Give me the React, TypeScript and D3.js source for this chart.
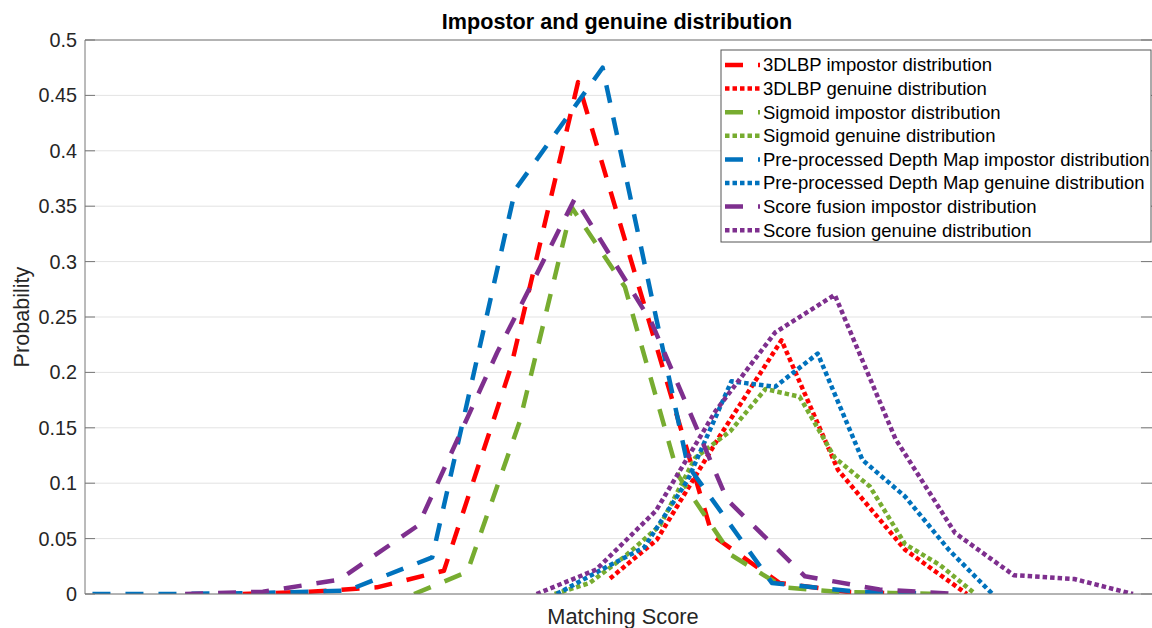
import React from "react";
import * as d3 from "d3";

// ---- data: matching score (0-100) and probability for each distribution ----
const dlbpImpostorScore = [14.8, 21.1, 27.4, 33.7, 40.0, 46.3, 52.6, 58.9, 65.2, 71.5, 77.7];
const dlbpImpostorProb = [0, 0.002, 0.006, 0.021, 0.205, 0.462, 0.258, 0.053, 0.01, 0.002, 0];

const dlbpGenuineScore = [49.3, 53.7, 59.5, 65.4, 70.7, 77.0, 82.8];
const dlbpGenuineProb = [0.014, 0.049, 0.141, 0.229, 0.112, 0.04, 0];

const sigmoidImpostorScore = [30.9, 35.9, 40.8, 45.7, 50.7, 55.7, 60.7, 65.6, 70.6, 75.6, 80.6];
const sigmoidImpostorProb = [0, 0.02, 0.155, 0.349, 0.277, 0.107, 0.035, 0.006, 0.002, 0.001, 0];

const sigmoidGenuineScore = [44.1, 47.4, 50.7, 54.0, 57.3, 60.6, 63.9, 67.1, 70.4, 73.7, 77.0, 80.3, 83.6];
const sigmoidGenuineProb = [0, 0.01, 0.034, 0.062, 0.123, 0.147, 0.185, 0.178, 0.123, 0.097, 0.045, 0.026, 0];

const depthImpostorScore = [0.7, 8.6, 16.6, 24.6, 32.6, 40.4, 48.6, 56.6, 64.5, 72.5, 80.5];
const depthImpostorProb = [0, 0, 0.001, 0.003, 0.033, 0.365, 0.475, 0.116, 0.01, 0.002, 0];

const depthGenuineScore = [44.3, 48.5, 52.5, 56.6, 60.7, 64.8, 68.8, 73.0, 77.0, 81.1, 85.2];
const depthGenuineProb = [0, 0.022, 0.042, 0.103, 0.192, 0.187, 0.217, 0.121, 0.088, 0.04, 0];

const fusionImpostorScore = [9.4, 16.7, 23.9, 31.3, 38.7, 46.0, 53.2, 60.3, 67.6, 74.6, 82.0];
const fusionImpostorProb = [0, 0.002, 0.013, 0.062, 0.218, 0.357, 0.245, 0.085, 0.016, 0.004, 0];

const fusionGenuineScore = [42.4, 48.0, 53.6, 59.2, 64.8, 70.4, 76.1, 81.7, 87.2, 92.9, 98.4];
const fusionGenuineProb = [0, 0.022, 0.075, 0.165, 0.236, 0.27, 0.14, 0.055, 0.017, 0.0135, 0];

const yTicks = [0, 0.05, 0.1, 0.15, 0.2, 0.25, 0.3, 0.35, 0.4, 0.45, 0.5];

const RED = "#FF0000";
const GREEN = "#77AC30";
const BLUE = "#0072BD";
const PURPLE = "#7E2F8E";

type Series = { name: string; xs: number[]; ys: number[]; color: string; dotted: boolean };

const series: Series[] = [
  { name: "3DLBP impostor distribution", xs: dlbpImpostorScore, ys: dlbpImpostorProb, color: RED, dotted: false },
  { name: "3DLBP genuine distribution", xs: dlbpGenuineScore, ys: dlbpGenuineProb, color: RED, dotted: true },
  { name: "Sigmoid impostor distribution", xs: sigmoidImpostorScore, ys: sigmoidImpostorProb, color: GREEN, dotted: false },
  { name: "Sigmoid genuine distribution", xs: sigmoidGenuineScore, ys: sigmoidGenuineProb, color: GREEN, dotted: true },
  { name: "Pre-processed Depth Map impostor distribution", xs: depthImpostorScore, ys: depthImpostorProb, color: BLUE, dotted: false },
  { name: "Pre-processed Depth Map genuine distribution", xs: depthGenuineScore, ys: depthGenuineProb, color: BLUE, dotted: true },
  { name: "Score fusion impostor distribution", xs: fusionImpostorScore, ys: fusionImpostorProb, color: PURPLE, dotted: false },
  { name: "Score fusion genuine distribution", xs: fusionGenuineScore, ys: fusionGenuineProb, color: PURPLE, dotted: true },
];

const W = 1152;
const H = 628;
// axes box (right edge sits at the canvas edge); data range ends slightly inside
const plot = { left: 85, right: 1152, top: 40, bottom: 594 };
const DATA_RIGHT = 1150;
const TEXT = "#262626";
const FONT = "'Liberation Sans', Arial, Helvetica, sans-serif";
const DASH = "18 15";
const DOT = "4.5 3";
const LW = 4.5;

export default function App() {
  const x = d3.scaleLinear().domain([0, 100]).range([plot.left, DATA_RIGHT]);
  const y = d3.scaleLinear().domain([0, 0.5]).range([plot.bottom, plot.top]);
  const line = d3
    .line<[number, number]>()
    .x((d) => x(d[0]))
    .y((d) => y(d[1]));

  const legend = { x: 721, y: 50, w: 430, h: 192, row0: 65, rowStep: 23.6 };

  return (
    <svg
      width={W}
      height={H}
      style={{ position: "absolute", left: 0, top: 0, background: "#fff" }}
      fontFamily={FONT}
    >
      <rect x={0} y={0} width={W} height={H} fill="#fff" />
      <defs>
        <clipPath id="clip">
          <rect x={plot.left} y={plot.top - 5} width={plot.right - plot.left} height={plot.bottom - plot.top + 5} />
        </clipPath>
      </defs>
      {/* grid */}
      {yTicks.map((t) => (
        <line key={"g" + t} x1={plot.left} x2={plot.right} y1={y(t)} y2={y(t)} stroke="#e3e3e3" strokeWidth={1} />
      ))}
      {/* series */}
      <g clipPath="url(#clip)">
        {series.map((s) => (
          <path
            key={s.name}
            d={line(s.xs.map((v, i) => [v, s.ys[i]] as [number, number])) || ""}
            fill="none"
            stroke={s.color}
            strokeWidth={LW}
            strokeDasharray={s.dotted ? DOT : DASH}
            strokeLinejoin="round"
          />
        ))}
      </g>
      {/* axes box */}
      <line x1={plot.left} x2={plot.right} y1={plot.top} y2={plot.top} stroke="#777" strokeWidth={1} />
      <line x1={plot.left} x2={plot.right} y1={plot.bottom} y2={plot.bottom} stroke="#777" strokeWidth={1} />
      <line x1={plot.left} x2={plot.left} y1={plot.top} y2={plot.bottom} stroke="#777" strokeWidth={1} />
      {yTicks.map((t) => (
        <g key={"t" + t}>
          <line x1={plot.left} x2={plot.left + 10} y1={y(t)} y2={y(t)} stroke="#777" strokeWidth={1} />
          <line x1={plot.right - 11} x2={plot.right} y1={y(t)} y2={y(t)} stroke="#777" strokeWidth={1} />
          <text x={plot.left - 8} y={y(t)} dy="0.35em" textAnchor="end" fontSize={19.8} fill={TEXT}>
            {String(t)}
          </text>
        </g>
      ))}
      {/* labels */}
      <text x={617} y={29} textAnchor="middle" fontSize={21.6} fontWeight="bold" fill="#000">
        Impostor and genuine distribution
      </text>
      <text x={623} y={624} textAnchor="middle" fontSize={21.8} fill={TEXT}>
        Matching Score
      </text>
      <text transform="translate(29,317) rotate(-90)" textAnchor="middle" fontSize={21.6} fill={TEXT}>
        Probability
      </text>
      {/* legend */}
      <rect x={legend.x} y={legend.y} width={legend.w} height={legend.h} fill="#fff" stroke="#555" strokeWidth={1} />
      {series.map((s, i) => {
        const cy = legend.row0 + i * legend.rowStep;
        return (
          <g key={"l" + s.name}>
            <line
              x1={725}
              x2={760}
              y1={cy}
              y2={cy}
              stroke={s.color}
              strokeWidth={LW}
              strokeDasharray={s.dotted ? DOT : DASH}
            />
            <text x={763} y={cy} dy="0.35em" fontSize={18.5} fill="#000">
              {s.name}
            </text>
          </g>
        );
      })}
    </svg>
  );
}
